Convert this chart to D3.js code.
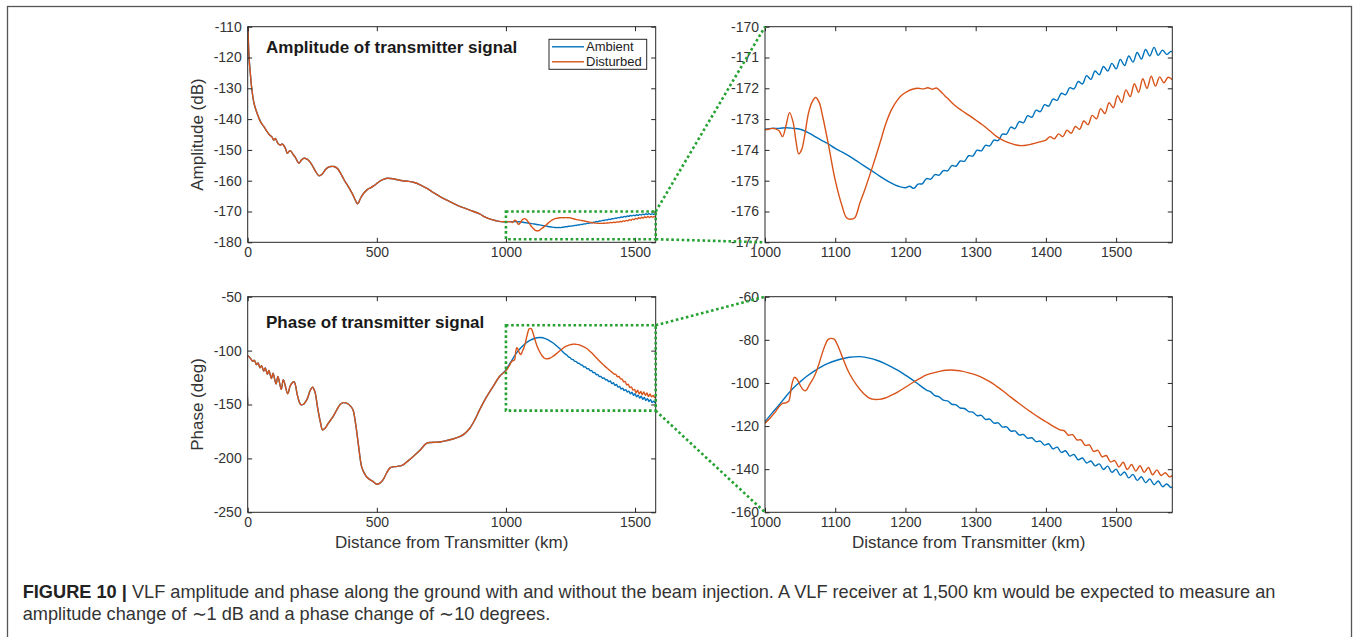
<!DOCTYPE html>
<html><head><meta charset="utf-8">
<script src="https://cdn.jsdelivr.net/npm/d3@7"></script>
<style>
body{margin:0;background:#fff}
svg{display:block}
text{font-family:"Liberation Sans",Arial,Helvetica,sans-serif}
</style>
</head><body>
<svg id="c" width="1357" height="637"></svg>
<script>
// ---------------- DATA ----------------
const seriesNames = ["Ambient", "Disturbed"];

// shared (identical) part of both series, 0–1000 km  [km, dB]
const ampShared = [[0,-104],[2,-113],[4,-118],[6,-121],[10,-125],[15,-129.5],[22,-133.8],[28,-136],[35,-137.8],[45,-140],[54,-141.5],[64,-142.6],[73,-143.8],[83,-145],[93,-145.7],[101,-146.8],[107,-146.3],[117,-147.9],[127,-148.4],[134,-148.1],[146,-149.5],[153,-151.1],[160,-150.5],[166,-150.3],[176,-151.5],[185,-152.5],[198,-154.3],[208,-153.3],[218,-152.7],[230,-153],[240,-153.8],[250,-155],[263,-157],[276,-158.4],[289,-157.8],[300,-156.5],[311,-155.7],[322,-155.4],[334,-155.4],[347,-156],[360,-157.6],[373,-159.7],[390,-162],[405,-164.2],[418,-166.5],[425,-167.5],[430,-167],[437,-165.7],[450,-164],[463,-162.9],[476,-162.3],[489,-161.6],[502,-160.8],[515,-160],[528,-159.5],[541,-159.2],[555,-159.3],[580,-159.7],[600,-160],[620,-160.2],[645,-160.6],[670,-161.4],[696,-162.6],[722,-164],[748,-165.3],[774,-166.4],[800,-167.5],[826,-168.5],[850,-169.2],[875,-170],[898,-170.8],[920,-171.8],[940,-172.5],[962,-173],[980,-173.3]];

// 1000–1580 km, ambient amplitude [km, dB]
const ampAmbientTail = [[1000,-173.33],[1010,-173.3],[1020,-173.3],[1030,-173.28],[1040,-173.3],[1050,-173.33],[1060,-173.42],[1070,-173.55],[1080,-173.68],[1090,-173.8],[1100,-173.95],[1110,-174.07],[1120,-174.2],[1130,-174.35],[1140,-174.5],[1150,-174.65],[1160,-174.8],[1170,-174.95],[1180,-175.08],[1190,-175.18],[1200,-175.23],
[1206,-175.18],[1212,-175.25],[1218,-175.11],[1224,-175.1],[1230,-174.93],[1236,-174.95],[1242,-174.8],[1248,-174.82],[1254,-174.67],[1260,-174.68],[1266,-174.51],[1272,-174.53],[1278,-174.36],[1284,-174.37],[1290,-174.19],[1296,-174.2],[1302,-174.01],[1308,-174.03],[1314,-173.85],[1320,-173.87],[1326,-173.68],[1332,-173.7],[1338,-173.49],[1344,-173.49],[1350,-173.26],[1356,-173.31],[1362,-173.08],[1368,-173.12],[1374,-172.89],[1380,-172.94],[1386,-172.71],[1392,-172.76],[1398,-172.53],[1404,-172.58],[1410,-172.35],[1416,-172.39],[1422,-172.16],[1428,-172.21],[1434,-171.98],[1440,-172.02],[1446,-171.78],[1452,-171.86],[1458,-171.59],[1464,-171.71],[1470,-171.44],[1476,-171.56],[1482,-171.29],[1488,-171.44],[1494,-171.19],[1500,-171.37],[1506,-171.06],[1512,-171.26],[1518,-170.95],[1524,-171.15],[1530,-170.84],[1536,-171.05],[1542,-170.74],[1548,-170.95],[1554,-170.67],[1560,-170.93],[1566,-170.76],[1572,-170.9],[1578,-170.8],[1580,-170.82]];

// 1000–1580 km, disturbed amplitude [km, dB]
const ampDisturbedTail = [[1000,-173.35],[1005,-173.33],[1010,-173.3],[1015,-173.32],[1020,-173.38],[1025,-173.57],[1030,-173.2],[1035,-172.79],[1040,-173.1],[1044,-173.7],[1048,-174.13],[1052,-174.0],[1056,-173.6],[1062,-172.8],[1067,-172.45],[1072,-172.3],[1077,-172.45],[1082,-172.9],[1090,-173.79],[1100,-174.98],[1110,-175.84],[1116,-176.2],[1122,-176.25],[1128,-176.2],[1135,-175.73],[1142,-175.3],[1150,-174.76],[1158,-174.2],[1165,-173.68],[1172,-173.15],[1180,-172.7],[1188,-172.4],[1195,-172.22],[1203,-172.1],[1210,-172.03],[1218,-172.0],[1225,-172.02],[1232,-171.98],[1238,-172.03],[1244,-171.99],[1250,-172.1],[1256,-172.24],[1262,-172.37],[1270,-172.55],[1280,-172.72],[1290,-172.87],[1300,-173.03],[1310,-173.19],[1320,-173.38],[1330,-173.57],[1340,-173.7],[1350,-173.79],[1358,-173.84],[1365,-173.86],[1372,-173.85],[1380,-173.81],[1390,-173.75],[1400,-173.68],
[1406,-173.57],[1412,-173.64],[1418,-173.48],[1424,-173.57],[1430,-173.36],[1436,-173.46],[1442,-173.24],[1448,-173.33],[1454,-173.06],[1460,-173.18],[1466,-172.88],[1472,-172.99],[1478,-172.66],[1484,-172.82],[1490,-172.47],[1496,-172.63],[1502,-172.24],[1508,-172.46],[1514,-172.05],[1520,-172.27],[1526,-171.85],[1532,-172.13],[1538,-171.69],[1544,-172.0],[1550,-171.61],[1556,-171.93],[1562,-171.63],[1568,-171.82],[1574,-171.64],[1580,-171.72]];

// shared (identical) phase, 0–1000 km [km, deg]
const phaseShared = [[0,-150],[1,-105],[10,-107],[20,-110],[26,-109],[34,-113],[40,-111.5],[48,-116],[54,-114],[62,-119],[68,-116],[76,-122],[82,-118.5],[92,-126],[98,-121],[110,-131],[117,-124],[130,-136],[138,-127],[155,-140],[164,-133],[172,-130],[180,-129],[193,-142],[205,-150],[215,-150],[230,-145],[242,-137],[251,-134],[260,-138],[270,-152],[282,-167],[290,-173.6],[300,-172],[312,-167.5],[331,-161],[345,-155],[358,-150],[370,-148.3],[380,-148.5],[389,-149.5],[400,-152],[408,-155],[418,-168],[428,-186],[441,-207.6],[450,-213],[460,-217],[472,-219.5],[486,-221.6],[500,-224],[512,-223],[524,-220],[537,-214],[550,-209],[563,-207.8],[576,-207.6],[590,-207],[602,-206],[620,-202.5],[640,-198.4],[665,-193],[692,-186],[710,-185.2],[731,-185],[750,-184.5],[769,-183.5],[795,-182],[821,-179.8],[840,-177],[860,-172],[880,-164],[898,-155],[920,-145],[950,-133.5],[975,-124]];

// 1000–1580 km, ambient phase [km, deg]
const phaseAmbientTail = [[1000,-118],[1010,-114],[1020,-110.2],[1030,-106.2],[1040,-102.5],[1050,-99.5],[1060,-96.8],[1070,-94.5],[1080,-92.5],[1090,-90.9],[1100,-89.7],[1110,-88.8],[1120,-88.1],[1135,-87.8],[1150,-88.6],[1160,-89.6],[1170,-90.9],[1180,-92.5],[1190,-94.3],[1200,-96.4],[1210,-98.6],[1220,-101],[1230,-103.3],
[1236,-104.14],[1242,-105.88],[1248,-106.42],[1254,-108.02],[1260,-108.35],[1266,-109.88],[1272,-110.18],[1278,-111.62],[1284,-111.86],[1290,-113.3],[1296,-113.54],[1302,-115.19],[1308,-115.05],[1314,-116.91],[1320,-116.77],[1326,-118.63],[1332,-118.51],[1338,-120.45],[1344,-120.39],[1350,-122.33],[1356,-122.27],[1362,-124.15],[1368,-123.91],[1374,-125.67],[1380,-125.43],[1386,-127.19],[1392,-126.96],[1398,-128.84],[1404,-128.22],[1410,-130.6],[1416,-129.78],[1422,-132.19],[1428,-131.45],[1434,-133.91],[1440,-133.17],[1446,-135.63],[1452,-134.83],[1458,-137.11],[1464,-136.19],[1470,-138.47],[1476,-137.55],[1482,-140.13],[1488,-138.61],[1494,-141.49],[1500,-139.97],[1506,-142.85],[1512,-141.29],[1518,-144.05],[1524,-142.41],[1530,-145.17],[1536,-143.53],[1542,-146.26],[1548,-144.52],[1554,-147.19],[1560,-145.45],[1566,-148.12],[1572,-146.88],[1578,-148.55],[1580,-148.2]];

// 1000–1580 km, disturbed phase [km, deg]
const phaseDisturbedTail = [[1000,-118.7],[1008,-116],[1015,-113.3],[1020,-111],[1025,-109.5],[1030,-109.2],[1034,-108.3],[1038,-101],[1042,-97.4],[1046,-98.5],[1050,-101],[1054,-103],[1058,-103.6],[1063,-101],[1070,-97.1],[1075,-93],[1080,-87.8],[1085,-83],[1090,-79.8],[1098,-79.6],[1102,-81.5],[1106,-84.5],[1112,-89.5],[1120,-95.5],[1130,-100.8],[1140,-104.8],[1148,-106.9],[1155,-107.6],[1162,-107.6],[1170,-107.1],[1180,-105.7],[1190,-104],[1200,-102],[1210,-99.9],[1220,-98],[1230,-96.3],[1240,-95.3],[1250,-94.5],[1258,-94.1],[1265,-94],[1272,-94.2],[1280,-94.5],[1290,-95.3],[1300,-96.3],[1310,-97.6],[1320,-99.4],[1330,-101.6],[1340,-104],[1350,-106.6],[1360,-109.1],[1370,-111.5],[1380,-113.8],[1390,-116],[1400,-118],[1410,-120],[1420,-121.8],
[1426,-122.13],[1432,-124.26],[1438,-123.99],[1444,-126.36],[1450,-126.45],[1456,-128.94],[1462,-128.72],[1468,-131.78],[1474,-131.24],[1480,-134.3],[1486,-133.67],[1492,-136.64],[1498,-136.01],[1504,-139.06],[1510,-136.8],[1516,-140.14],[1522,-137.8],[1528,-140.9],[1534,-138.4],[1540,-141.5],[1546,-139.24],[1552,-142.58],[1558,-140.32],[1564,-142.92],[1570,-141.65],[1576,-143.58],[1580,-143.0]];

// zoom boxes drawn on the overview plots [x0, x1, yTop, yBottom]
const ampZoomBox = [1000, 1580, -170, -179];
const phaseZoomBox = [1000, 1580, -76.5, -155.7];

// axis ticks
const xTicksFull = [0, 500, 1000, 1500];
const xTicksZoom = [1000, 1100, 1200, 1300, 1400, 1500];
const ampTicks = [-180, -170, -160, -150, -140, -130, -120, -110];
const ampZoomTicks = [-177, -176, -175, -174, -173, -172, -171, -170];
const phaseTicks = [-250, -200, -150, -100, -50];
const phaseZoomTicks = [-160, -140, -120, -100, -80, -60];

// text
const titles = ["Amplitude of transmitter signal", "Phase of transmitter signal"];
const yLabels = ["Amplitude (dB)", "Phase (deg)"];
const xLabel = "Distance from Transmitter (km)";
const captionBold = "FIGURE 10 |";
const captionLine1 = " VLF amplitude and phase along the ground with and without the beam injection. A VLF receiver at 1,500 km would be expected to measure an";
const captionLine2 = "amplitude change of \u223C1 dB and a phase change of \u223C10 degrees.";

// ---------------- BUILD ----------------
const ampAmbient = ampShared.concat(ampAmbientTail);
const ampDisturbed = ampShared.concat(ampDisturbedTail);
const phaseAmbient = phaseShared.concat(phaseAmbientTail);
const phaseDisturbed = phaseShared.concat(phaseDisturbedTail);

const colors = ["#0072BD", "#D95319"];
const axisColor = "#262626";
const green = "#26a232";

const svg = d3.select("#c");

// outer frame
svg.append("rect").attr("x", 7.5).attr("y", 6.5).attr("width", 1344).attr("height", 700)
  .attr("fill", "none").attr("stroke", "#555").attr("stroke-width", 1.3);

const L = {x0: 247.7, x1: 655.7}, R = {x0: 765, x1: 1172.3};
const T = {y0: 26.7, y1: 242.3}, B = {y0: 296.7, y1: 512.3};

const panels = [
  {id: "tl", xr: L, yr: T, xd: [0, 1580], yd: [-180, -110], xt: xTicksFull, yt: ampTicks, series: [ampAmbient, ampDisturbed]},
  {id: "tr", xr: R, yr: T, xd: [1000, 1580], yd: [-177, -170], xt: xTicksZoom, yt: ampZoomTicks, series: [ampAmbient, ampDisturbed]},
  {id: "bl", xr: L, yr: B, xd: [0, 1580], yd: [-250, -50], xt: xTicksFull, yt: phaseTicks, series: [phaseAmbient, phaseDisturbed]},
  {id: "br", xr: R, yr: B, xd: [1000, 1580], yd: [-160, -60], xt: xTicksZoom, yt: phaseZoomTicks, series: [phaseAmbient, phaseDisturbed]},
];

const P = {};
panels.forEach(p => {
  const x = d3.scaleLinear().domain(p.xd).range([p.xr.x0, p.xr.x1]);
  const y = d3.scaleLinear().domain(p.yd).range([p.yr.y1, p.yr.y0]);
  P[p.id] = {x, y};
  const g = svg.append("g");
  g.append("clipPath").attr("id", "clip-" + p.id).append("rect")
    .attr("x", p.xr.x0).attr("y", p.yr.y0).attr("width", p.xr.x1 - p.xr.x0).attr("height", p.yr.y1 - p.yr.y0);
  const line = d3.line().x(d => x(d[0])).y(d => y(d[1])).curve(d3.curveCatmullRom.alpha(0.5));
  const lg = g.append("g").attr("clip-path", `url(#clip-${p.id})`);
  p.series.forEach((s, i) => {
    const data = s.filter(d => d[0] >= p.xd[0] - 10);
    lg.append("path").attr("d", line(data)).attr("fill", "none")
      .attr("stroke", colors[i]).attr("stroke-width", 1.4).attr("stroke-linejoin", "round");
  });
  // axes (ticks inward on all sides)
  const tk = 4.5;
  const ax = g.append("g").attr("transform", `translate(0,${p.yr.y1})`)
    .call(d3.axisBottom(x).tickValues(p.xt).tickSizeInner(-tk).tickSizeOuter(0).tickPadding(5).tickFormat(d => String(d)));
  const ay = g.append("g").attr("transform", `translate(${p.xr.x0},0)`)
    .call(d3.axisLeft(y).tickValues(p.yt).tickSizeInner(-tk).tickSizeOuter(0).tickPadding(6).tickFormat(d => String(d)));
  const at = g.append("g").attr("transform", `translate(0,${p.yr.y0})`)
    .call(d3.axisTop(x).tickValues(p.xt).tickSizeInner(-tk).tickSizeOuter(0).tickFormat(""));
  const ar = g.append("g").attr("transform", `translate(${p.xr.x1},0)`)
    .call(d3.axisRight(y).tickValues(p.yt).tickSizeInner(-tk).tickSizeOuter(0).tickFormat(""));
  [ax, ay, at, ar].forEach(a => {
    a.select(".domain").remove();
    a.selectAll("line").attr("stroke", axisColor).attr("stroke-width", 1);
    a.selectAll("text").attr("fill", "#333").style("font-size", "14px")
      .style("font-family", '"Liberation Sans",Arial,sans-serif');
  });
  g.append("rect").attr("x", p.xr.x0).attr("y", p.yr.y0)
    .attr("width", p.xr.x1 - p.xr.x0).attr("height", p.yr.y1 - p.yr.y0)
    .attr("fill", "none").attr("stroke", axisColor).attr("stroke-width", 1);
});

// titles
svg.append("text").attr("x", 266).attr("y", 53).attr("font-weight", "bold").attr("font-size", 17)
  .attr("fill", "#1a1a1a").text(titles[0]);
svg.append("text").attr("x", 266).attr("y", 328).attr("font-weight", "bold").attr("font-size", 17)
  .attr("fill", "#1a1a1a").text(titles[1]);

// y labels
[[T, yLabels[0]], [B, yLabels[1]]].forEach(([yr, t]) => {
  svg.append("text").attr("transform", `translate(203,${(yr.y0 + yr.y1) / 2}) rotate(-90)`)
    .attr("text-anchor", "middle").attr("font-size", 17).attr("fill", "#333").text(t);
});
// x labels
[L, R].forEach(xr => {
  svg.append("text").attr("x", (xr.x0 + xr.x1) / 2).attr("y", 548).attr("text-anchor", "middle")
    .attr("font-size", 17).attr("fill", "#333").text(xLabel);
});

// legend
const lgx = 549, lgy = 39.3;
svg.append("rect").attr("x", lgx).attr("y", lgy).attr("width", 97.7).attr("height", 30)
  .attr("fill", "#fff").attr("stroke", axisColor).attr("stroke-width", 1);
seriesNames.forEach((n, i) => {
  const yy = lgy + 7.5 + i * 15;
  svg.append("line").attr("x1", lgx + 3).attr("x2", lgx + 35).attr("y1", yy).attr("y2", yy)
    .attr("stroke", colors[i]).attr("stroke-width", 1.4);
  svg.append("text").attr("x", lgx + 37).attr("y", yy + 4.5).attr("font-size", 13).attr("fill", "#222").text(n);
});

// green zoom boxes + connectors
function zoomBox(src, box, yr) {
  const s = P[src];
  const x0 = s.x(box[0]), x1 = s.x(box[1]), yt = s.y(box[2]), yb = s.y(box[3]);
  const st = {fill: "none", stroke: green, "stroke-width": 2.6, "stroke-dasharray": "2.6,2.6"};
  const r = svg.append("rect").attr("x", x0).attr("y", yt).attr("width", x1 - x0).attr("height", yb - yt);
  const l1 = svg.append("line").attr("x1", x1).attr("y1", yt).attr("x2", R.x0).attr("y2", yr.y0);
  const l2 = svg.append("line").attr("x1", x1).attr("y1", yb).attr("x2", R.x0).attr("y2", yr.y1);
  [r, l1, l2].forEach(e => Object.entries(st).forEach(([k, v]) => e.attr(k, v)));
}
zoomBox("tl", ampZoomBox, T);
zoomBox("bl", phaseZoomBox, B);

// caption
const capSize = 18.2;
const cap = svg.append("text").attr("x", 22.7).attr("y", 598).attr("font-size", capSize).attr("fill", "#333");
cap.append("tspan").attr("font-weight", "bold").attr("fill", "#222").text(captionBold);
cap.append("tspan").text(captionLine1);
svg.append("text").attr("x", 22.7).attr("y", 620).attr("font-size", capSize).attr("fill", "#333").text(captionLine2);
</script>
</body></html>
